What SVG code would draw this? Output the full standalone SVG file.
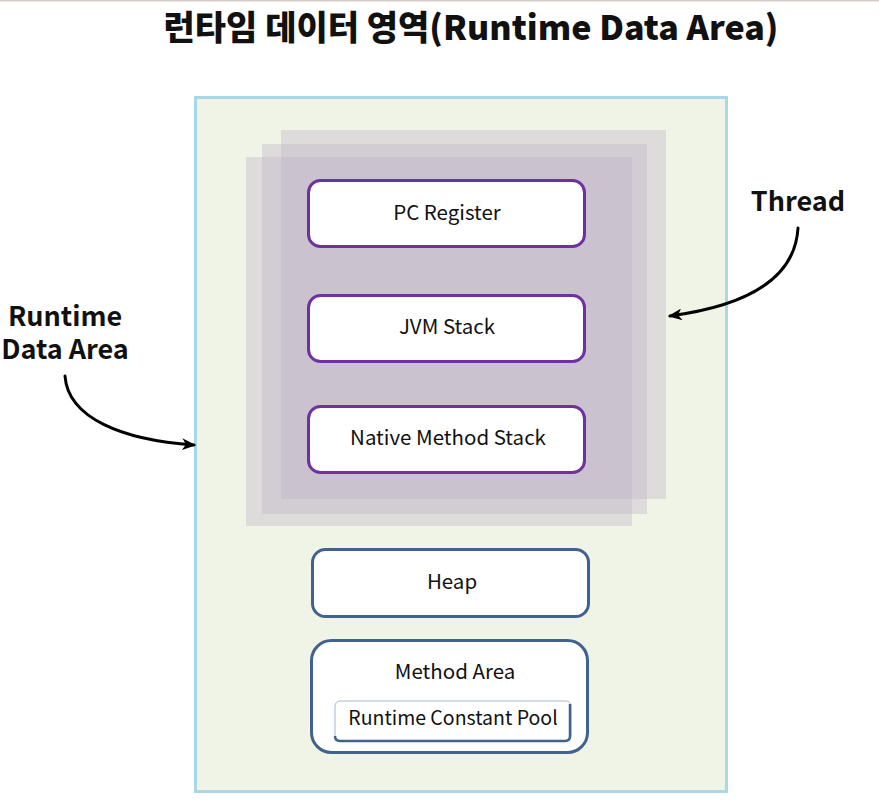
<svg xmlns="http://www.w3.org/2000/svg" width="879" height="811" viewBox="0 0 879 811">
<style>
  text { font-family: "Noto Sans CJK KR", "Noto Sans", sans-serif; fill: #111; }
  .title { font-size: 34px; font-weight: 900; }
  .lbl { font-size: 27px; font-weight: bold; }
  .box { font-size: 20.5px; font-weight: 400; }
  .pool { font-size: 19.5px; }
  .layer { fill: #bdaec7; fill-opacity: 0.35; }
  .pbox { fill: #fff; stroke: #7030a0; stroke-width: 3; }
  .bbox { fill: #fff; stroke: #41628f; stroke-width: 3; }
  .arrow { fill: none; stroke: #000; stroke-width: 3; stroke-linecap: round; }
</style>
<defs>
  <marker id="ah" viewBox="0 0 14 12" refX="12" refY="6" markerWidth="14" markerHeight="12" markerUnits="userSpaceOnUse" orient="auto">
    <path d="M0,0 L14,6 L0,12 L4,6 Z" fill="#000"/>
  </marker>
</defs>
<rect x="0" y="0" width="879" height="811" fill="#fff"/>
<line x1="0" y1="0.5" x2="879" y2="0.5" stroke="#d4ccc8" stroke-width="2"/>
<text class="title" x="471" y="40" text-anchor="middle">런타임 데이터 영역(Runtime Data Area)</text>

<g id="runtime-data-area">
  <rect x="195.5" y="97.5" width="531" height="694" fill="#f0f4e6" stroke="#a9d7e6" stroke-width="3"/>
</g>

<g id="thread">
  <rect class="layer" x="281" y="130" width="385" height="369"/>
  <rect class="layer" x="262" y="144" width="385" height="370"/>
  <rect class="layer" x="246" y="157" width="386" height="369"/>
</g>

<g id="pc-register">
  <rect class="pbox" x="308.5" y="180.5" width="276" height="66" rx="12"/>
  <text class="box" x="447" y="220" text-anchor="middle">PC Register</text>
</g>
<g id="jvm-stack">
  <rect class="pbox" x="308.5" y="295.5" width="276" height="66" rx="12"/>
  <text class="box" x="447" y="334" text-anchor="middle">JVM Stack</text>
</g>
<g id="native-method-stack">
  <rect class="pbox" x="308.5" y="406.5" width="276" height="66" rx="12"/>
  <text class="box" x="448" y="445" text-anchor="middle">Native Method Stack</text>
</g>

<g id="heap">
  <rect class="bbox" x="312.5" y="549.5" width="276" height="67" rx="13"/>
  <text class="box" x="452" y="589" text-anchor="middle">Heap</text>
</g>
<g id="method-area">
  <rect class="bbox" x="311.5" y="640.5" width="276" height="112" rx="20"/>
  <text class="box" x="455" y="679" text-anchor="middle">Method Area</text>
</g>
<g id="runtime-constant-pool">
  <rect x="335" y="701" width="236" height="40" rx="5" fill="#fff" stroke="#a8b6c8" stroke-width="1"/>
  <path d="M570,704 L570,736 Q570,741 565,741 L340,741 Q335,741 335,736" fill="none" stroke="#41628f" stroke-width="2.5"/>
  <text class="box pool" x="453" y="725" text-anchor="middle">Runtime Constant Pool</text>
</g>

<g id="label-thread">
  <text class="lbl" x="798" y="211" text-anchor="middle">Thread</text>
</g>
<g id="label-runtime-data-area">
  <text class="lbl" x="65" y="326" text-anchor="middle">Runtime</text>
  <text class="lbl" x="65" y="359" text-anchor="middle">Data Area</text>
</g>

<g id="connectors">
  <path class="arrow" d="M798,228 C795,280 745,306 670,316" marker-end="url(#ah)"/>
  <path class="arrow" d="M65,376 C68,418 122,440 194,445" marker-end="url(#ah)"/>
</g>
</svg>
